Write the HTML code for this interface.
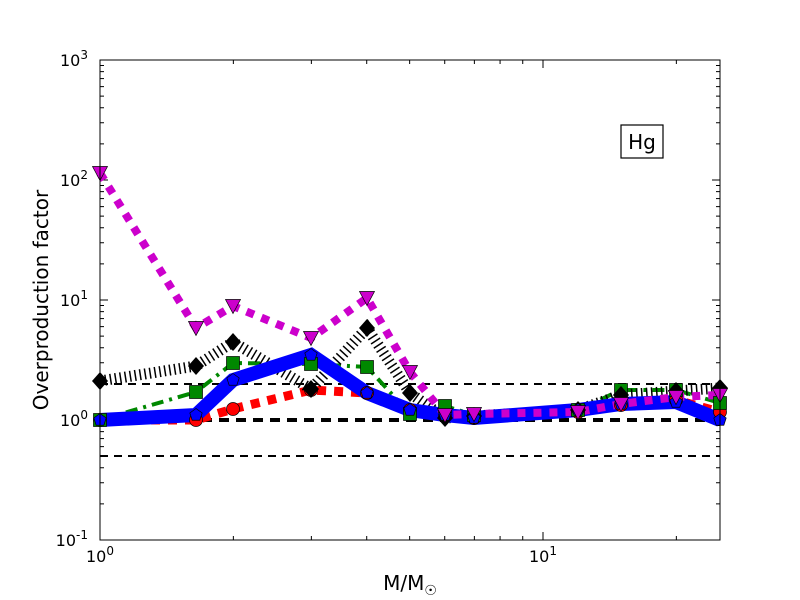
<!DOCTYPE html>
<html><head><meta charset="utf-8"><style>body{margin:0;background:#fff}svg{display:block}text{font-family:"DejaVu Sans","Liberation Sans",sans-serif}</style></head>
<body>
<svg id="s" width="800" height="600" xmlns="http://www.w3.org/2000/svg">
<rect width="800" height="600" fill="#fff"/>
<g id="g"></g>
<rect x="100" y="60" width="620" height="480" fill="none" stroke="#000" stroke-width="1"/>
<rect x="621" y="125" width="42" height="33" fill="#fff" stroke="#000" stroke-width="1.2"/>
<text x="642" y="149" font-size="20" text-anchor="middle">Hg</text>
<text x="88" y="66" font-size="16" text-anchor="end">10<tspan dy="-7" font-size="12">3</tspan></text>
<text x="88" y="186" font-size="16" text-anchor="end">10<tspan dy="-7" font-size="12">2</tspan></text>
<text x="88" y="306" font-size="16" text-anchor="end">10<tspan dy="-7" font-size="12">1</tspan></text>
<text x="88" y="426" font-size="16" text-anchor="end">10<tspan dy="-7" font-size="12">0</tspan></text>
<text x="88" y="546" font-size="16" text-anchor="end">10<tspan dy="-7" font-size="12">-1</tspan></text>
<text x="100" y="562" font-size="16" text-anchor="middle">10<tspan dy="-7" font-size="12">0</tspan></text>
<text x="543" y="562" font-size="16" text-anchor="middle">10<tspan dy="-7" font-size="12">1</tspan></text>
<text x="410" y="590" font-size="20" text-anchor="middle">M/M<tspan font-size="14" dy="5">☉</tspan></text>
<text transform="translate(48,300) rotate(-90)" font-size="20" text-anchor="middle">Overproduction factor</text>
</svg>
<script>
var g=document.getElementById('g'),h='';
function X(m){return 100+443*Math.log10(m);}
for(var d=-1;d<3;d++)for(var k=1;k<10;k++){var y=420-120*(d+Math.log10(k));var L=k==1?8:4;
h+='<line x1="100" x2="'+(100+L)+'" y1="'+y+'" y2="'+y+'" stroke="#000"/><line x1="720" x2="'+(720-L)+'" y1="'+y+'" y2="'+y+'" stroke="#000"/>';}
[1,2,3,4,5,6,7,8,9,10,20].forEach(function(m){var x=X(m),L=(m==1||m==10)?8:4;
h+='<line x1="'+x+'" x2="'+x+'" y1="540" y2="'+(540-L)+'" stroke="#000"/><line x1="'+x+'" x2="'+x+'" y1="60" y2="'+(60+L)+'" stroke="#000"/>';});
h+='<line x1="100" x2="720" y1="384" y2="384" stroke="#000" stroke-width="2" stroke-dasharray="8,6"/>';
h+='<line x1="100" x2="720" y1="456" y2="456" stroke="#000" stroke-width="2" stroke-dasharray="8,6"/>';
h+='<line x1="100" x2="720" y1="420" y2="420" stroke="#000" stroke-width="4" stroke-dasharray="10,7"/>';
var xs=[100,196,233,311,367,410,445,474,578,621,676,720];
function P(a){return a.map(function(y,i){return xs[i]+','+y;}).join(' ');}
var red=[420,420,409,390,393,410,416,418,412,405,400,412];
var green=[420,392,363,364,367,414,406,415,410,390,390,403];
var black=[381,366,342,389,328,393,418,416,410,395,391,388];
var blue=[420,415,380,355,393,410,415,418,410,404,402,420];
var mag=[173,328,306,338,298,372,415,414,412,404,397,395];
h+='<polyline points="'+P(red)+'" fill="none" stroke="#f00" stroke-width="9" stroke-dasharray="9,8"/>';
h+='<polyline points="'+P(green)+'" fill="none" stroke="#080" stroke-width="4" stroke-dasharray="12,6,3,6"/>';
h+='<polyline points="'+P(black)+'" fill="none" stroke="#000" stroke-width="11" stroke-dasharray="1.5,3.5"/>';
h+='<polyline points="'+P(blue)+'" fill="none" stroke="#00f" stroke-width="14"/>';
h+='<polyline points="'+P(mag)+'" fill="none" stroke="#c0c" stroke-width="8" stroke-dasharray="8,8"/>';
xs.forEach(function(x,i){
h+='<circle cx="'+x+'" cy="'+red[i]+'" r="6.5" fill="#f00" stroke="#000" stroke-width="0.7"/>';
h+='<rect x="'+(x-6.5)+'" y="'+(green[i]-6.5)+'" width="13" height="13" fill="#080" stroke="#000" stroke-width="0.7"/>';
var y=black[i];h+='<polygon points="'+x+','+(y-9)+' '+(x+8)+','+y+' '+x+','+(y+9)+' '+(x-8)+','+y+'" fill="#000"/>';
y=blue[i];var p=[];for(var k=0;k<5;k++){var a=-Math.PI/2+k*2*Math.PI/5;p.push((x+6.5*Math.cos(a))+','+(y+6.5*Math.sin(a)));}
h+='<polygon points="'+p.join(' ')+'" fill="#00f" stroke="#000" stroke-width="0.7"/>';
y=mag[i];h+='<polygon points="'+(x-7.5)+','+(y-6.5)+' '+(x+7.5)+','+(y-6.5)+' '+x+','+(y+7.5)+'" fill="#c0c" stroke="#000" stroke-width="0.7"/>';
});
g.innerHTML=h;
</script>
</body></html>
